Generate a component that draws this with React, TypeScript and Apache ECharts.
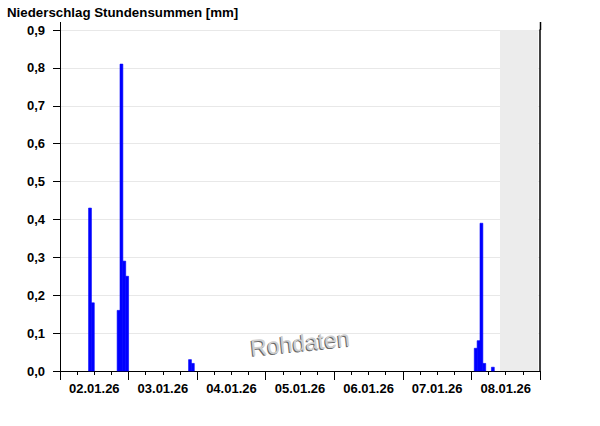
import React, { useEffect, useRef } from "react";
import * as echarts from "echarts";

// hour index counted from 02.01.26 00:00
const BAR_HOURS = [10, 11, 20, 21, 22, 23, 45, 46, 145, 146, 147, 148, 151];
const BAR_VALUES = [0.43, 0.18, 0.16, 0.81, 0.29, 0.25, 0.03, 0.02, 0.06, 0.08, 0.39, 0.02, 0.01];
const DAY_LABELS = ["02.01.26", "03.01.26", "04.01.26", "05.01.26", "06.01.26", "07.01.26", "08.01.26"];
const SHADE_FROM = 154;
const SHADE_TO = 167.4;
const TOTAL_HOURS = 168;
const Y_MAX = 0.9;

const FONT = "'Liberation Sans', Arial, sans-serif";

export default function App() {
  const ref = useRef<HTMLDivElement>(null);
  useEffect(() => {
    document.body.style.margin = "0";
    const chart = echarts.init(ref.current!, null, { renderer: "svg" });
    const data = BAR_HOURS.map((h, i) => [h, BAR_VALUES[i]]);
    const wm = (dx: number, dy: number, fill: string, z: number) => ({
      type: "text",
      x: 300 + dx,
      y: 343 + dy,
      rotation: 0.1,
      style: {
        text: "Rohdaten",
        fontFamily: FONT,
        fontSize: 23,
        fill,
        align: "center",
        verticalAlign: "middle",
      },
      z,
    });
    chart.setOption({
      animation: false,
      backgroundColor: "#ffffff",
      textStyle: { fontFamily: FONT },
      title: {
        text: "Niederschlag Stundensummen [mm]",
        left: 2,
        top: 1,
        textStyle: { fontFamily: FONT, fontSize: 13.3, fontWeight: "bold", color: "#000" },
      },
      grid: { left: 60, right: 60, top: 30, bottom: 55, containLabel: false },
      xAxis: [
        {
          type: "value",
          min: 0,
          max: TOTAL_HOURS,
          interval: 24,
          axisLine: { show: true, lineStyle: { color: "#000", width: 1 } },
          axisTick: { show: true, length: 9, lineStyle: { color: "#000" } },
          minorTick: { show: true, splitNumber: 4, length: 4, lineStyle: { color: "#000" } },
          axisLabel: { show: false },
          splitLine: { show: false },
        },
        {
          type: "category",
          data: DAY_LABELS,
          position: "bottom",
          boundaryGap: true,
          axisLine: { show: false },
          axisTick: { show: false },
          axisLabel: { margin: 11, fontFamily: FONT, fontSize: 13, fontWeight: "bold", color: "#000" },
          splitLine: { show: false },
        },
      ],
      yAxis: [
        {
          type: "value",
          min: 0,
          max: Y_MAX,
          interval: 0.1,
          axisLine: { show: true, lineStyle: { color: "#000", width: 1 } },
          axisTick: { show: true, length: 7, lineStyle: { color: "#000" } },
          axisLabel: {
            margin: 15,
            fontFamily: FONT,
            fontSize: 13,
            fontWeight: "bold",
            color: "#000",
            formatter: (v: number) => v.toFixed(1).replace(".", ","),
          },
          splitLine: { show: true, lineStyle: { color: "#e8e8e8", width: 1 } },
        },
        {
          type: "value",
          min: 0,
          max: Y_MAX,
          interval: 0.1,
          position: "right",
          axisLine: { show: true, lineStyle: { color: "#000", width: 1.5 } },
          axisTick: { show: false },
          axisLabel: { show: false },
          splitLine: { show: false },
        },
      ],
      graphic: [
        { type: "line", shape: { x1: 60.5, y1: 22, x2: 60.5, y2: 30 }, style: { stroke: "#000", lineWidth: 1 } },
        { type: "line", shape: { x1: 540.5, y1: 22, x2: 540.5, y2: 30 }, style: { stroke: "#000", lineWidth: 1.5 } },
        wm(-1, 1, "#666666", 10),
        wm(0, 0, "#cfcfcf", 11),
      ],
      series: [
        {
          type: "custom",
          xAxisIndex: 0,
          yAxisIndex: 0,
          data,
          encode: { x: 0, y: 1 },
          renderItem: (params: any, api: any) => {
            const h = api.value(0);
            const v = api.value(1);
            const p0 = api.coord([h, v]);
            const p1 = api.coord([h + 1, 0]);
            return {
              type: "rect",
              shape: { x: p0[0], y: p0[1], width: p1[0] - p0[0], height: p1[1] - p0[1] },
              style: { fill: "#0000ff", stroke: "#0000ff", lineWidth: 0.6 },
            };
          },
          markArea: {
            silent: true,
            itemStyle: { color: "#ececec" },
            data: [[{ xAxis: SHADE_FROM, yAxis: 0 }, { xAxis: SHADE_TO, yAxis: Y_MAX }]],
          },
          z: 3,
        },
      ],
    });
    return () => chart.dispose();
  }, []);
  return <div ref={ref} style={{ width: 600, height: 426, position: "absolute", left: 0, top: 0 }} />;
}
